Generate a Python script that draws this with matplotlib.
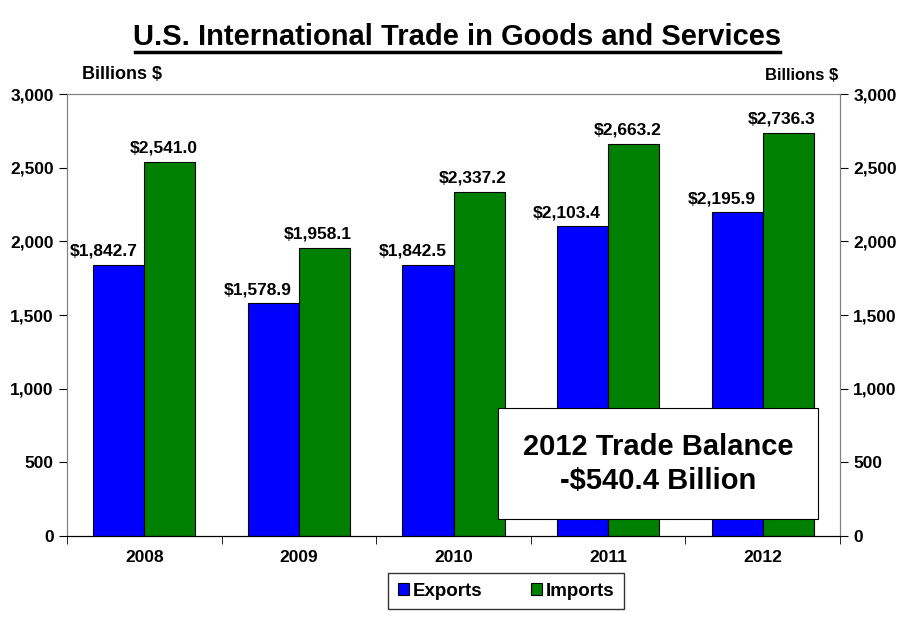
import matplotlib.pyplot as plt
import numpy as np
from matplotlib.lines import Line2D

years = ['2008', '2009', '2010', '2011', '2012']
exports = [1842.7, 1578.9, 1842.5, 2103.4, 2195.9]
imports = [2541.0, 1958.1, 2337.2, 2663.2, 2736.3]

plt.rcParams['font.family'] = ['Liberation Sans', 'DejaVu Sans']
plt.rcParams['font.weight'] = 'bold'

fig = plt.figure(figsize=(9.11, 6.23), dpi=100)
ax = fig.add_axes([67/911, 87/623, 773/911, 442/623])

x = np.arange(len(years))
w = 0.33
b1 = ax.bar(x - w/2, exports, w, color='#0000FF', edgecolor='black', linewidth=0.8, label='Exports')
b2 = ax.bar(x + w/2, imports, w, color='#008000', edgecolor='black', linewidth=0.8, label='Imports')

for xi, v in zip(x, exports):
    ax.text(xi - w/2 - 0.1, v + 40, '${:,.1f}'.format(v), ha='center', va='bottom', fontsize=12.5, fontweight='bold')
for xi, v in zip(x, imports):
    ax.text(xi + w/2 - 0.04, v + 40, '${:,.1f}'.format(v), ha='center', va='bottom', fontsize=12.5, fontweight='bold')

ax.set_xlim(-0.5, len(years) - 0.5)
ax.set_ylim(0, 3000)
ax.set_yticks(np.arange(0, 3001, 500))
ax.set_yticklabels(['{:,}'.format(t) for t in range(0, 3001, 500)], fontsize=12.5, fontweight='bold')
ax.set_xticks(x)
ax.set_xticklabels(years, fontsize=12.5, fontweight='bold')
ax.tick_params(axis='x', length=0, pad=10)
ax.set_xticks(np.arange(-0.5, len(years), 1), minor=True)
ax.tick_params(axis='x', which='minor', length=6, color='black')
ax.tick_params(axis='y', length=6, direction='out')

ax2 = ax.twinx()
ax2.set_ylim(0, 3000)
ax2.set_yticks(np.arange(0, 3001, 500))
ax2.set_yticklabels(['{:,}'.format(t) for t in range(0, 3001, 500)], fontsize=12.5, fontweight='bold')
ax2.tick_params(axis='y', length=6, direction='out')

for a in (ax, ax2):
    for s in ['left', 'right', 'top']:
        a.spines[s].set_color('#808080')
    a.spines['bottom'].set_color('black')

ax.text(0.02, 1.025, 'Billions $', transform=ax.transAxes, fontsize=13, fontweight='bold', ha='left', va='bottom')
ax2.text(0.9975, 1.025, 'Billions $', transform=ax.transAxes, fontsize=12, fontweight='bold', ha='right', va='bottom')

fig.text(0.502, 0.94, 'U.S. International Trade in Goods and Services',
         family=['Liberation Sans Narrow', 'Liberation Sans', 'DejaVu Sans'],
         fontsize=21, fontweight='bold', ha='center', va='center')
fig.add_artist(Line2D([135/911, 780/911], [1 - 52/623, 1 - 52/623], color='black', linewidth=2.5))

ax2.text(0.765, 0.163, '2012 Trade Balance\n-$540.4 Billion', transform=ax.transAxes,
         fontsize=21, fontweight='bold', ha='center', va='center', linespacing=1.25,
         bbox=dict(boxstyle='square,pad=0.85', facecolor='white', edgecolor='black', linewidth=0.8),
         zorder=10)

fig.legend(handles=[b1, b2], loc='center', bbox_to_anchor=(506/911, 1 - 591/623), ncol=2,
           frameon=True, fancybox=False, edgecolor='black', fontsize=13.5,
           handlelength=0.6, handleheight=0.6, handletextpad=0.2, columnspacing=2.6,
           borderpad=0.5, borderaxespad=0)

fig.savefig('out.png', dpi=100)
